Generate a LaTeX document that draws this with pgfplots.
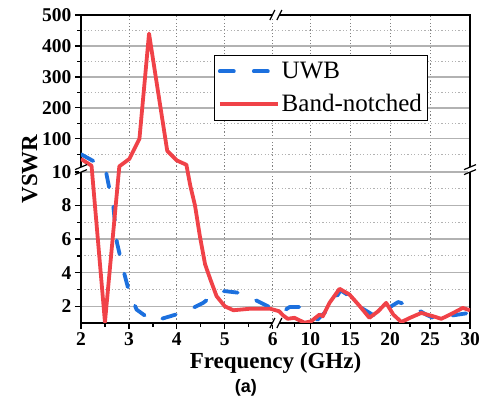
\documentclass[border=0pt]{standalone}
\usepackage{pgfplots}
\pgfplotsset{compat=1.18}
\usepackage{fontspec}
\setmainfont{Liberation Serif}
\newfontfamily\arialfont{Liberation Sans}
\definecolor{cred}{RGB}{240,66,72}
\definecolor{cblue}{RGB}{28,112,222}
\begin{document}
\begin{tikzpicture}
\begin{axis}[
  scale only axis, width=389bp, height=308bp,
  x coord trafo/.code={\pgfmathparse{(#1<=6)?(#1):(6.12+(#1-6)/6)}},
  x coord inv trafo/.code={\pgfmathparse{(#1<=6.06)?(#1):(6+(#1-6.12)*6)}},
  y coord trafo/.code={\pgfmathparse{(#1<=10)?(#1):(10.32+(#1-10)*0.01845)}},
  y coord inv trafo/.code={\pgfmathparse{(#1<=10.16)?(#1):(10+(#1-10.32)/0.01845)}},
  xmin=2, xmax=30, ymin=1, ymax=500,
  xtick={2,3,4,5,6,10,15,20,25,30},
  xticklabels={2,3,4,5,6,10,15,20,25,30},
  minor xtick={2.5,3.5,4.5,5.5,8,12.5,17.5,22.5,27.5},
  ytick={2,4,6,8,10,100,200,300,400,500},
  yticklabels={2,4,6,8,10,100,200,300,400,500},
  minor ytick={3,5,7,9,50,150,250,350,450},
  tick pos=left, tick align=outside,
  major tick length=6bp, minor tick length=3.5bp,
  tick style={black, line width=1.3bp},
  axis line style={black, line width=1.8bp},
  xmajorgrids=true, ymajorgrids=true, yminorgrids=true, xminorgrids=false,
  major x grid style={black!50, line width=0.8bp, dash pattern=on 1.2bp off 2.2bp},
  major y grid style={black!30, line width=1.4bp},
  minor y grid style={black!30, line width=0.9bp, dash pattern=on 1.2bp off 2.2bp},
  ticklabel style={font=\fontsize{19.5bp}{19.5bp}\selectfont\bfseries},
  xlabel={Frequency (GHz)},
  ylabel={VSWR},
  ylabel style={xshift=0bp, yshift=-2bp},
  label style={font=\fontsize{23bp}{23bp}\selectfont\bfseries},
  legend style={at={(0.342,0.87)}, anchor=north west, draw=black, line width=0.8bp,
    fill=white, font=\fontsize{25bp}{25bp}\selectfont, inner xsep=3.5bp, inner ysep=5bp,
    row sep=10bp},
  legend cell align=left,
  legend image code/.code={\draw[#1] (0bp,0bp) -- (58bp,0bp);},
  clip=true,
]
\addplot[cblue, line width=3.8bp, dash pattern=on 14bp off 20bp, line cap=round, line join=round] coordinates {
(2,50) (2.33,22) (2.5,10.6) (2.6,8.9) (2.67,8.1) (2.75,5.8) (2.88,4.2) (3.0,2.9) (3.16,1.8) (3.5,1.1) (3.86,1.4) (4.2,1.7) (4.55,2.2) (4.8,2.75) (5.0,2.9) (5.3,2.8) (5.55,2.5) (5.93,1.96) (6.3,1.6) (7.4,1.95) (9.0,1.95) (10.9,1.2) (12.4,1.9) (13.8,2.95) (14.9,2.6) (16.4,1.9) (18.3,1.35) (19.3,1.75) (21.0,2.25) (22.9,1.96) (24.5,1.5) (25.4,1.3) (27.1,1.4) (29.9,1.6)
};
\addlegendentry{UWB}
\addplot[cred, line width=3.8bp, line join=round] coordinates {
(2,35) (2.22,13) (2.5,1.05) (2.8,11) (3.01,35) (3.22,100) (3.42,440) (3.8,61) (4.0,30) (4.2,16) (4.28,9.2) (4.38,8.0) (4.48,6.2) (4.59,4.5) (4.7,3.6) (4.83,2.6) (5.0,2.0) (5.18,1.76) (5.53,1.85) (5.95,1.85) (6.1,1.7) (6.6,1.45) (7.17,1.25) (8.0,1.31) (9.27,1.02) (10.1,1.1) (11.15,1.5) (11.57,1.4) (12.4,2.2) (13.66,3.04) (14.9,2.7) (16.2,2.0) (17.4,1.31) (18.5,1.7) (19.5,2.2) (20.4,1.5) (21.4,1.06) (22.5,1.31) (23.9,1.6) (25.4,1.4) (26.4,1.25) (27.5,1.5) (29.1,1.9) (30,1.76)
};
\addlegendentry{Band-notched}
\coordinate (SW) at (rel axis cs:0,0);
\coordinate (NE) at (rel axis cs:1,1);
\coordinate (XB0) at (rel axis cs:0.501,0);
\coordinate (XB1) at (rel axis cs:0.501,1);
\coordinate (YB0) at (rel axis cs:0,0.498);
\coordinate (YB1) at (rel axis cs:1,0.498);
\coordinate (LA) at (rel axis cs:0.424,0);
\end{axis}
% axis break marks
\foreach \P in {XB0,XB1}{
  \begin{scope}[shift={(\P)}]
    \fill[white] (-3.5bp,-1.6bp) rectangle (3.5bp,1.6bp);
    \draw[black, line width=1.2bp] (-6bp,-5bp) -- (-1bp,5bp);
    \draw[black, line width=1.2bp] (1bp,-5bp) -- (6bp,5bp);
  \end{scope}
}
\foreach \P in {YB0,YB1}{
  \begin{scope}[shift={(\P)}]
    \fill[white] (-1.6bp,-2.5bp) rectangle (1.6bp,2.5bp);
    \draw[black, line width=1.2bp] (-6bp,-5bp) -- (6bp,0bp);
    \draw[black, line width=1.2bp] (-6bp,0bp) -- (6bp,5bp);
  \end{scope}
}
\node[font=\arialfont\bfseries\fontsize{18bp}{18bp}\selectfont] at ([yshift=-65bp]LA) {(a)};
\pgfresetboundingbox
\path ([shift={(-81bp,-78bp)}]SW) rectangle ([shift={(17bp,15bp)}]NE);
\end{tikzpicture}
\end{document}
